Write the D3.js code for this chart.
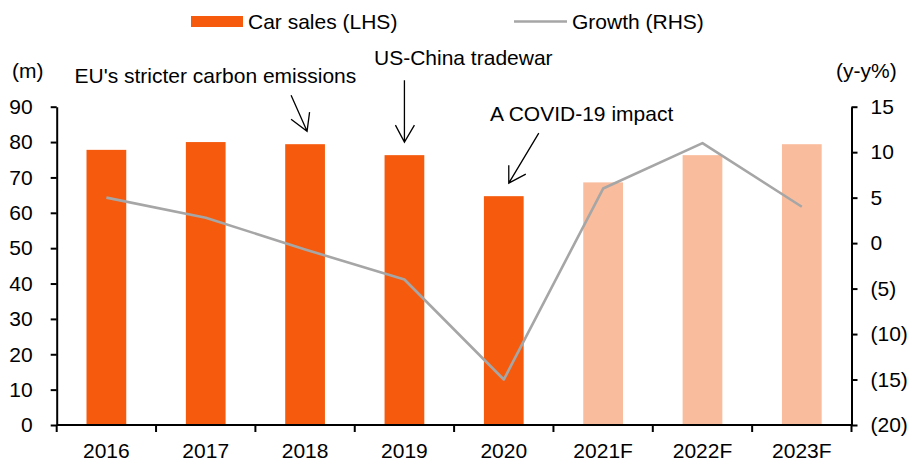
<!DOCTYPE html>
<html>
<head>
<meta charset="utf-8">
<script src="https://cdn.jsdelivr.net/npm/d3@7"></script>
<style>
  html, body { margin: 0; padding: 0; background: #fff; }
  svg { display: block; font-family: "Liberation Sans", Arial, sans-serif; }
</style>
</head>
<body>
<svg id="chart" width="909" height="461"></svg>
<script>
// ---- data ----
const categories = ["2016", "2017", "2018", "2019", "2020", "2021F", "2022F", "2023F"];
const forecast = [false, false, false, false, false, true, true, true];
const carSales = [77.8, 80.0, 79.4, 76.3, 64.7, 68.6, 76.3, 79.4];   // m units (LHS)
const growth = [5.0, 2.8, -0.7, -4.0, -15.0, 6.0, 11.0, 4.0];        // y-y % (RHS)
const leftTicks = [0, 10, 20, 30, 40, 50, 60, 70, 80, 90];
const rightTicks = [-20, -15, -10, -5, 0, 5, 10, 15];
const annotationTexts = ["EU's stricter carbon emissions", "US-China tradewar", "A COVID-19 impact"];
const annotationCats = ["2018", "2019", "2020"];

// ---- layout ----
const L = 56.7, R = 851.5, T = 106.7, B = 425;
const FS = 21;
const barColor = "#F55A0D", fcColor = "#F9BD9E", lineColor = "#A6A6A6";

const svg = d3.select("#chart");

const x = d3.scaleBand().domain(categories).range([L, R]).paddingInner(0.6).paddingOuter(0.3);
const yL = d3.scaleLinear().domain([0, 90]).range([B, T]);
const yR = d3.scaleLinear().domain([-20, 15]).range([B, T]);
const cx = c => x(c) + x.bandwidth() / 2;

// bars
svg.append("g").selectAll("rect").data(categories).join("rect")
  .attr("x", d => x(d))
  .attr("width", x.bandwidth())
  .attr("y", (d, i) => yL(carSales[i]))
  .attr("height", (d, i) => B - yL(carSales[i]))
  .attr("fill", (d, i) => forecast[i] ? fcColor : barColor);

// growth line
const line = d3.line().x((d, i) => cx(categories[i])).y(d => yR(d));
svg.append("path").datum(growth)
  .attr("d", line)
  .attr("fill", "none")
  .attr("stroke", lineColor)
  .attr("stroke-width", 2.6)
  .attr("stroke-linejoin", "round");

// left axis
const gL = svg.append("g").attr("transform", `translate(${L},0)`)
  .call(d3.axisLeft(yL).tickValues(leftTicks).tickSize(6).tickSizeOuter(0).tickPadding(18));
// right axis
const fmtR = v => v < 0 ? `(${Math.abs(v)})` : `${v}`;
const gR = svg.append("g").attr("transform", `translate(${R},0)`)
  .call(d3.axisRight(yR).tickValues(rightTicks).tickFormat(fmtR).tickSize(6).tickSizeOuter(0).tickPadding(13));
// bottom axis (labels)
const gB = svg.append("g").attr("transform", `translate(0,${B})`)
  .call(d3.axisBottom(x).tickSize(0).tickPadding(18));
gB.select(".domain").remove();
// bottom baseline & category boundary ticks
svg.append("line").attr("x1", L).attr("x2", R).attr("y1", B).attr("y2", B)
  .attr("stroke", "#000").attr("stroke-width", 2);
const step = x.step();
const start = x(categories[0]) - x.paddingOuter() * step;
svg.append("g").selectAll("line").data(d3.range(categories.length + 1)).join("line")
  .attr("x1", i => start + i * step)
  .attr("x2", i => start + i * step)
  .attr("y1", B).attr("y2", B + 7)
  .attr("stroke", "#000").attr("stroke-width", 2);

[gL, gR, gB].forEach(g => {
  g.selectAll(".domain").attr("stroke", "#000").attr("stroke-width", 2);
  g.selectAll(".tick line").attr("stroke", "#000").attr("stroke-width", 2);
  g.selectAll("text").attr("font-size", FS).attr("fill", "#000").attr("font-family", "Liberation Sans, Arial, sans-serif");
});

// unit labels
svg.append("text").attr("x", 12).attr("y", 78).attr("font-size", FS).text("(m)");
svg.append("text").attr("x", 836).attr("y", 78).attr("font-size", FS).text("(y-y%)");

// legend
svg.append("rect").attr("x", 191).attr("y", 16).attr("width", 52).attr("height", 11).attr("fill", barColor);
svg.append("text").attr("x", 248).attr("y", 29).attr("font-size", FS).text("Car sales (LHS)");
svg.append("line").attr("x1", 514).attr("x2", 567).attr("y1", 21.5).attr("y2", 21.5)
  .attr("stroke", lineColor).attr("stroke-width", 2.6);
svg.append("text").attr("x", 572).attr("y", 29).attr("font-size", FS).text("Growth (RHS)");

// annotations (text + open-headed arrows pointing at the bars)
const annGeom = [
  { tx: 74.5, ty: 83, from: [-16, -36], tipDx: 2, arms: [[-16, -12], [2.5, -19]] },
  { tx: 374, ty: 65, from: [0, -62], tipDx: 0, arms: [[-9, -17], [10, -17]] },
  { tx: 490, ty: 121, from: [30, -50], tipDx: 5, arms: [[0, -18], [17, -9]] }
];
annotationTexts.forEach((t, i) => {
  const g = annGeom[i];
  const ci = categories.indexOf(annotationCats[i]);
  const tipX = cx(annotationCats[i]) + g.tipDx;
  const tipY = yL(carSales[ci]) - 13;
  svg.append("text").attr("x", g.tx).attr("y", g.ty).attr("font-size", FS).text(t);
  const p = d3.path();
  p.moveTo(tipX + g.from[0], tipY + g.from[1]); p.lineTo(tipX, tipY);
  p.moveTo(tipX + g.arms[0][0], tipY + g.arms[0][1]); p.lineTo(tipX, tipY);
  p.lineTo(tipX + g.arms[1][0], tipY + g.arms[1][1]);
  svg.append("path").attr("d", p.toString()).attr("fill", "none")
    .attr("stroke", "#000").attr("stroke-width", 1.3);
});
</script>
</body>
</html>
